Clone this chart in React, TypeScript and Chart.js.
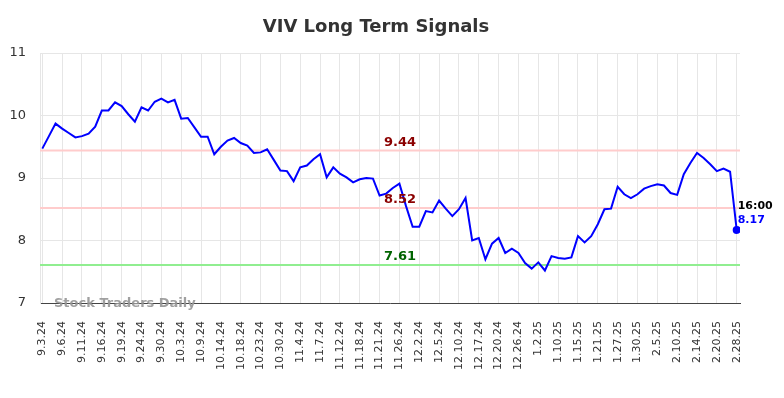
import React, { useEffect, useRef } from "react";
import { Chart, registerables } from "chart.js";

Chart.register(...registerables);

const titleText = "VIV Long Term Signals";
const watermarkText = "Stock Traders Daily";
const lastTimeLabel = "16:00";

const tickLabels = [
  "9.3.24", "9.6.24", "9.11.24", "9.16.24", "9.19.24", "9.24.24", "9.30.24", "10.3.24", "10.9.24",
  "10.14.24", "10.18.24", "10.23.24", "10.30.24", "11.4.24", "11.7.24", "11.12.24", "11.18.24",
  "11.21.24", "11.26.24", "12.2.24", "12.5.24", "12.10.24", "12.17.24", "12.20.24", "12.26.24",
  "1.2.25", "1.10.25", "1.15.25", "1.21.25", "1.27.25", "1.30.25", "2.5.25", "2.10.25", "2.14.25",
  "2.20.25", "2.28.25",
];

const pointsPerTick = 3;

const prices = [
  9.47, 9.67, 9.87, 9.79, 9.72, 9.65, 9.67, 9.71, 9.82, 10.08,
  10.08, 10.21, 10.15, 10.02, 9.9, 10.13, 10.08, 10.22, 10.27, 10.21,
  10.25, 9.95, 9.96, 9.81, 9.66, 9.66, 9.38, 9.5, 9.6, 9.64,
  9.56, 9.52, 9.4, 9.41, 9.46, 9.29, 9.12, 9.11, 8.95, 9.17,
  9.2, 9.3, 9.38, 9.01, 9.17, 9.07, 9.01, 8.93, 8.98, 9.0,
  8.99, 8.72, 8.75, 8.84, 8.91, 8.55, 8.22, 8.22, 8.47, 8.45,
  8.64, 8.51, 8.39, 8.5, 8.68, 8.0, 8.04, 7.7, 7.95, 8.04,
  7.8, 7.87, 7.8, 7.64, 7.55, 7.65, 7.52, 7.75, 7.72, 7.71,
  7.73, 8.07, 7.97, 8.07, 8.26, 8.5, 8.51, 8.86, 8.74, 8.68,
  8.74, 8.83, 8.87, 8.9, 8.88, 8.76, 8.73, 9.06, 9.24, 9.4,
  9.32, 9.22, 9.11, 9.15, 9.1, 8.17,
];

const levelValues = [9.44, 8.52, 7.61];
const levelLineColors = ["#ffcccc", "#ffcccc", "#90ee90"];
const levelTextColors = ["#8b0000", "#8b0000", "#006400"];

const yTicks = [7, 8, 9, 10, 11];

const FONT = "'DejaVu Sans', sans-serif";

const overlayPlugin = {
  id: "overlay",
  beforeDatasetsDraw(chart: any) {
    const { ctx, chartArea, scales } = chart;
    ctx.save();
    levelValues.forEach((v, i) => {
      const y = scales.y.getPixelForValue(v);
      ctx.strokeStyle = levelLineColors[i];
      ctx.lineWidth = 2;
      ctx.beginPath();
      ctx.moveTo(chartArea.left, y);
      ctx.lineTo(chartArea.right, y);
      ctx.stroke();
    });
    ctx.restore();
  },
  afterDraw(chart: any) {
    const { ctx, chartArea, scales } = chart;
    ctx.save();
    // title
    ctx.font = `bold 18px ${FONT}`;
    ctx.fillStyle = "#333333";
    ctx.textAlign = "center";
    ctx.textBaseline = "middle";
    ctx.fillText(titleText, 376, 27);

    // level labels
    ctx.font = `bold 13px ${FONT}`;
    levelValues.forEach((v, i) => {
      const y = scales.y.getPixelForValue(v);
      ctx.fillStyle = levelTextColors[i];
      ctx.fillText(v.toFixed(2), 400, y - 8);
    });

    // last point labels
    const last = prices.length - 1;
    const lx = scales.x.getPixelForValue(last);
    const ly = scales.y.getPixelForValue(prices[last]);
    ctx.textAlign = "left";
    ctx.font = `bold 11px ${FONT}`;
    ctx.fillStyle = "#000000";
    ctx.fillText(lastTimeLabel, lx + 1, ly - 24);
    ctx.fillStyle = "#0000ff";
    ctx.fillText(prices[last].toFixed(2), lx + 1, ly - 10);

    // watermark
    ctx.font = `bold 13px ${FONT}`;
    ctx.fillStyle = "rgba(150,150,150,0.9)";
    ctx.textAlign = "left";
    ctx.fillText(watermarkText, 54, chartArea.bottom + 1);
    ctx.restore();
  },
};

export default function App() {
  const canvasRef = useRef<HTMLCanvasElement | null>(null);

  useEffect(() => {
    const canvas = canvasRef.current;
    if (!canvas) return;
    const last = prices.length - 1;
    const chart = new Chart(canvas, {
      type: "line",
      data: {
        datasets: [
          {
            data: prices.map((v, i) => ({ x: i, y: v })),
            borderColor: "#0000ff",
            backgroundColor: "#0000ff",
            borderWidth: 2,
            tension: 0,
            pointRadius: (c: any) => (c.dataIndex === last ? 4 : 0),
            pointHoverRadius: 0,
            pointBackgroundColor: "#0000ff",
            pointBorderWidth: 0,
          },
        ],
      },
      options: {
        animation: false,
        responsive: false,
        devicePixelRatio: 1,
        layout: { padding: { top: 53, left: 0, right: 44, bottom: 0 } },
        plugins: {
          legend: { display: false },
          title: { display: false },
          tooltip: { enabled: false },
        },
        scales: {
          x: {
            type: "linear",
            min: -0.35,
            max: prices.length - 1 + 0.5,
            afterBuildTicks: (scale: any) => {
              scale.ticks = tickLabels.map((_, k) => ({ value: k * pointsPerTick }));
            },
            afterFit: (scale: any) => {
              scale.height = 95;
            },
            ticks: {
              autoSkip: false,
              maxRotation: 90,
              minRotation: 90,
              padding: 18,
              color: "#333333",
              font: { family: FONT, size: 11 },
              callback: (v: any) => tickLabels[Math.round(Number(v) / pointsPerTick)] ?? "",
            },
            grid: { color: "#e6e6e6", drawTicks: false },
            border: { color: "#444444", width: 1 },
          },
          y: {
            min: 7,
            max: 11,
            afterBuildTicks: (scale: any) => {
              scale.ticks = yTicks.map((v) => ({ value: v }));
            },
            afterFit: (scale: any) => {
              scale.width = 40;
            },
            ticks: {
              padding: 14,
              color: "#333333",
              font: { family: FONT, size: 13 },
            },
            grid: { color: "#e6e6e6", drawTicks: false },
            border: { color: "#e6e6e6" },
          },
        },
      },
      plugins: [overlayPlugin],
    } as any);
    return () => chart.destroy();
  }, []);

  return (
    <div style={{ position: "fixed", left: 0, top: 0, width: 784, height: 398, background: "#ffffff" }}>
      <canvas ref={canvasRef} width={784} height={398} style={{ width: 784, height: 398, display: "block" }} />
    </div>
  );
}
